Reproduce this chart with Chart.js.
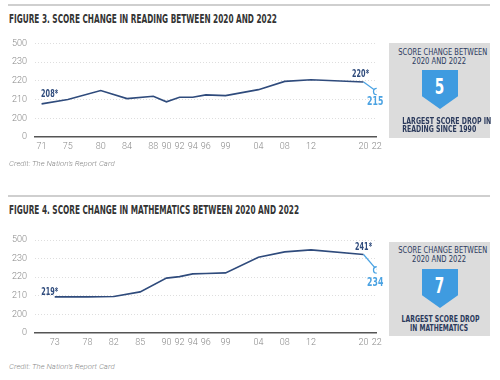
<!DOCTYPE html>
<html>
<head>
<meta charset="utf-8">
<script src="https://cdn.jsdelivr.net/npm/chart.js@4.4.1/dist/chart.umd.min.js"></script>
<style>
  body { margin: 0; width: 500px; height: 380px; background: #fff; position: relative; overflow: hidden; font-family: Roboto, sans-serif; }
  .rule { position: absolute; left: 8px; width: 482px; height: 2px; background: #cfcfcf; }
  .title { position: absolute; left: 9px; line-height: 12px; font-family: "DejaVu Sans Condensed", sans-serif; font-weight: bold; font-size: 11.8px; color: #333; white-space: nowrap; display: inline-block; transform-origin: left center; }
  .credit { position: absolute; left: 9px; line-height: 10px; font-size: 7.8px; font-style: italic; font-weight: 300; color: #888; white-space: nowrap; }
  .chartwrap { position: absolute; left: 0; width: 390px; height: 130px; }
  .box { position: absolute; left: 389px; width: 101px; background: #dcdcdc; color: #2b3a5c; font-family: "DejaVu Sans Condensed", sans-serif; }
  .box .ln { position: absolute; left: 0; right: 0; text-align: center; font-size: 9px; line-height: 10px; white-space: nowrap; }
  .box .ln span { display: inline-block; transform-origin: center center; }
  .box .b { font-weight: bold; }
  .box .badge { position: absolute; left: 33px; top: 27px; width: 36px; height: 39px; background: #3f9be0; color: #fff;
    clip-path: polygon(0 0, 100% 0, 100% 67%, 50% 100%, 0 67%); text-align: center; }
  .box .badge span { display: inline-block; font-size: 21px; font-weight: bold; line-height: 34px; transform: scaleX(0.72); }
</style>
</head>
<body>

<div class="rule" style="top:4px"></div>
<div class="title" id="title1" style="top:12.5px">FIGURE 3. SCORE CHANGE IN READING BETWEEN 2020 AND 2022</div>
<div class="chartwrap" style="top:30px"><canvas id="readingChart" width="390" height="130"></canvas></div>
<div class="credit" style="top:159px">Credit: The Nation’s Report Card</div>
<div class="box" style="top:43px; height:95px">
  <div class="ln" style="top:3.5px"><span data-w="89">SCORE CHANGE BETWEEN</span></div>
  <div class="ln" style="top:12.5px"><span data-w="54">2020 AND 2022</span></div>
  <div class="badge"><span>5</span></div>
  <div class="ln b" style="top:72.5px"><span data-w="89">LARGEST SCORE DROP IN</span></div>
  <div class="ln b" style="top:81px"><span data-w="74">READING SINCE 1990</span></div>
</div>

<div class="rule" style="top:195px"></div>
<div class="title" id="title2" style="top:203.5px">FIGURE 4. SCORE CHANGE IN MATHEMATICS BETWEEN 2020 AND 2022</div>
<div class="chartwrap" style="top:226px"><canvas id="mathChart" width="390" height="130"></canvas></div>
<div class="credit" style="top:362px">Credit: The Nation’s Report Card</div>
<div class="box" style="top:242px; height:94px">
  <div class="ln" style="top:3px"><span data-w="89">SCORE CHANGE BETWEEN</span></div>
  <div class="ln" style="top:12px"><span data-w="54">2020 AND 2022</span></div>
  <div class="badge"><span>7</span></div>
  <div class="ln b" style="top:72px"><span data-w="78">LARGEST SCORE DROP</span></div>
  <div class="ln b" style="top:81px"><span data-w="58">IN MATHEMATICS</span></div>
</div>

<script>
// --- DATA ---
const readingYears = [1971, 1975, 1980, 1984, 1988, 1990, 1992, 1994, 1996, 1999, 2004, 2008, 2012, 2020, 2022];
const readingYearLabels = ['71', '75', '80', '84', '88', '90', '92', '94', '96', '99', '04', '08', '12', '20', '22'];
const readingScores = [207.7, 210, 214.8, 210.5, 211.8, 208.8, 211.2, 211.2, 212.5, 212.1, 215.3, 219.7, 220.6, 219.4, 214.3];

const mathYears = [1973, 1978, 1982, 1986, 1990, 1992, 1994, 1996, 1999, 2004, 2008, 2012, 2020, 2022];
const mathYearLabels = ['73', '78', '82', '85', '90', '92', '94', '96', '99', '04', '08', '12', '20', '22'];
const mathScores = [209.4, 209.4, 209.6, 212.1, 219.5, 220.3, 221.8, 222, 222.3, 230.7, 233.6, 234.7, 232.2, 223.9];

// y axis is drawn with even steps, the printed labels are not
const yTickValues = [190, 200, 210, 220, 230, 240];
const yTickLabels = ['0', '200', '210', '220', '230', '500'];

// callouts: [point index, text]
const readingCallouts = [[0, '208*'], [13, '220*'], [14, '215']];
const mathCallouts = [[0, '219*'], [12, '241*'], [13, '234']];

const NAVY = '#2f4b7c';
const LIGHT_BLUE = '#4aa2e2';
const CONDENSED = '"DejaVu Sans Condensed", sans-serif';

// squeeze the condensed bold text so it reads like the original typeface
function fitText() {
  document.querySelectorAll('[data-w]').forEach(el => {
    const w = el.getBoundingClientRect().width;
    el.style.transform = `scaleX(${el.dataset.w / w})`;
  });
  // both titles share one squeeze, taken from the maths title
  const t2 = document.getElementById('title2');
  const k = 290 / t2.getBoundingClientRect().width;
  t2.style.transform = `scaleX(${k})`;
  document.getElementById('title1').style.transform = `scaleX(${k})`;
}
fitText();

// style of each callout: offset from its point
const calloutStyles = {
  reading: [
    { dx: 8, dy: -9, color: NAVY, size: 10 },
    { dx: -3, dy: -8, color: NAVY, size: 10 },
    { dx: -1.5, dy: 10, color: LIGHT_BLUE, size: 12 }
  ],
  math: [
    { dx: -5, dy: -5, color: NAVY, size: 10 },
    { dx: 0, dy: -7, color: NAVY, size: 10 },
    { dx: -1.5, dy: 13, color: LIGHT_BLUE, size: 12 }
  ]
};

const calloutPlugin = {
  id: 'callouts',
  afterDatasetsDraw(chart, args, opts) {
    const { ctx } = chart;
    const meta = chart.getDatasetMeta(0);
    opts.items.forEach(([idx, text], k) => {
      const st = opts.styles[k];
      const pt = meta.data[idx];
      ctx.save();
      ctx.translate(pt.x + st.dx, pt.y + st.dy);
      ctx.scale(0.72, 1);
      ctx.textAlign = 'center';
      ctx.textBaseline = 'middle';
      ctx.font = `bold ${st.size}px ${CONDENSED}`;
      ctx.fillStyle = st.color;
      ctx.fillText(text, 0, 0);
      ctx.restore();
    });
  }
};

function makeChart(canvasId, years, yearLabels, scores, callouts, styles, padTop) {
  const last = scores.length - 1;
  return new Chart(document.getElementById(canvasId), {
    type: 'line',
    data: {
      datasets: [{
        data: years.map((yr, i) => ({ x: yr, y: scores[i] })),
        borderColor: NAVY,
        borderWidth: 1.6,
        tension: 0,
        segment: {
          borderColor: c => c.p1DataIndex === last ? LIGHT_BLUE : NAVY,
          borderWidth: c => c.p1DataIndex === last ? 1.2 : 1.6
        },
        pointRadius: c => c.dataIndex === last ? 3.2 : 0,
        pointBackgroundColor: '#fff',
        pointBorderColor: LIGHT_BLUE,
        pointBorderWidth: 1.3
      }]
    },
    options: {
      responsive: false,
      animation: false,
      layout: { padding: { top: padTop, right: 13.3, left: 0, bottom: 0 } },
      plugins: {
        legend: { display: false },
        tooltip: { enabled: false },
        callouts: { items: callouts, styles: styles }
      },
      scales: {
        x: {
          type: 'linear',
          min: 1970,
          max: 2022,
          afterBuildTicks: s => { s.ticks = years.map(v => ({ value: v })); },
          afterFit: s => { s.height = 23; },
          grid: { display: false, drawTicks: false },
          border: { display: true, color: '#555', width: 1.5 },
          ticks: {
            autoSkip: false,
            maxRotation: 0,
            padding: 4,
            color: '#888',
            font: { family: 'Roboto', size: 9, weight: 300 },
            callback: (v, i) => yearLabels[i]
          }
        },
        y: {
          min: 190,
          max: 240,
          afterBuildTicks: s => { s.ticks = yTickValues.map(v => ({ value: v })); },
          afterFit: s => { s.width = 35; },
          grid: {
            drawTicks: false,
            color: c => c.index === 0 ? 'rgba(0,0,0,0)' : '#dedede',
            lineWidth: 1
          },
          border: { display: false, dash: [1, 2] },
          ticks: {
            padding: 8,
            color: '#888',
            font: { family: 'Roboto', size: 9, weight: 300 },
            callback: (v, i) => yTickLabels[i]
          }
        }
      }
    },
    plugins: [calloutPlugin]
  });
}

makeChart('readingChart', readingYears, readingYearLabels, readingScores, readingCallouts, calloutStyles.reading, 13.3);
makeChart('mathChart', mathYears, mathYearLabels, mathScores, mathCallouts, calloutStyles.math, 14);
</script>
</body>
</html>
